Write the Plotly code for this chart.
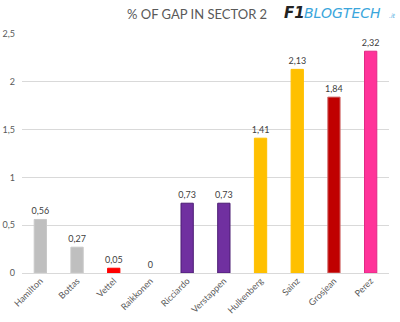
import plotly.graph_objects as go

drivers = ["Hamilton", "Bottas", "Vettel", "Raikkonen", "Ricciardo",
           "Verstappen", "Hulkenberg", "Sainz", "Grosjean", "Perez"]
gap_pct = [0.56, 0.27, 0.05, 0, 0.73, 0.73, 1.41, 2.13, 1.84, 2.32]
bar_colors = ["#BFBFBF", "#BFBFBF", "#FF0000", "#FF0000", "#7030A0",
              "#7030A0", "#FFC000", "#FFC000", "#C00000", "#FF3399"]
edge_colors = ["#C8C8C8", "#C8C8C8", "#FF0000", "rgba(0,0,0,0)", "#4B1C73",
               "#4B1C73", "#FFC000", "#FFC000", "#D07070", "#E02A85"]

labels = [("%.2f" % v).replace(".", ",") if v != 0 else "0" for v in gap_pct]

W, H = 400, 322
L, R, T, B = 22, 11, 34, 49
pw, ph = W - L - R, H - T - B


def px_x(x):
    return (x - L) / pw


def px_y(y):
    return (H - B - y) / ph


fig = go.Figure(go.Bar(
    x=drivers,
    y=gap_pct,
    marker=dict(color=bar_colors, line=dict(color=edge_colors, width=1)),
    text=labels,
    textposition="outside",
    constraintext="none",
    textfont=dict(family="Lato", size=9, color="#404040"),
    cliponaxis=False,
))

fig.update_layout(
    width=W, height=H,
    margin=dict(l=L, r=R, t=T, b=B, pad=0),
    paper_bgcolor="white",
    plot_bgcolor="white",
    separators=",.",
    bargap=0.665,
    showlegend=False,
    font=dict(family="Lato", size=9, color="#595959"),
    xaxis=dict(
        tickangle=-45,
        tickfont=dict(family="Lato", size=9, color="#595959"),
        showgrid=False,
        showline=False,
        automargin=False,
        ticks="",
    ),
    yaxis=dict(
        range=[0, 2.5],
        dtick=0.5,
        tickformat=",.1~f",
        showgrid=True,
        gridcolor="#D9D9D9",
        gridwidth=1,
        zeroline=True,
        zerolinecolor="#D9D9D9",
        zerolinewidth=1,
        showline=False,
        automargin=False,
        ticks="",
        ticklabelstandoff=6,
        tickfont=dict(family="Lato", size=9, color="#595959"),
    ),
    annotations=[
        dict(text="% OF GAP IN SECTOR 2", xref="paper", yref="paper",
             x=px_x(197), y=px_y(14), xanchor="center", yanchor="middle",
             showarrow=False,
             font=dict(family="Lato", size=13, color="#595959")),
        dict(text="<b><i>F1</i></b>", xref="paper", yref="paper",
             x=px_x(282), y=px_y(13), xanchor="left", yanchor="middle",
             showarrow=False,
             font=dict(family="DejaVu Sans", size=15, color="#222222")),
        dict(text="<i>BLOGTECH</i>", xref="paper", yref="paper",
             x=px_x(302), y=px_y(13), xanchor="left", yanchor="middle",
             showarrow=False,
             font=dict(family="DejaVu Sans", size=14, color="#3AA6DC")),
        dict(text="<i>.it</i>", xref="paper", yref="paper",
             x=px_x(387), y=px_y(16), xanchor="left", yanchor="middle",
             showarrow=False,
             font=dict(family="DejaVu Sans", size=6, color="#3AA6DC")),
    ],
)

fig.write_html("out.html")
